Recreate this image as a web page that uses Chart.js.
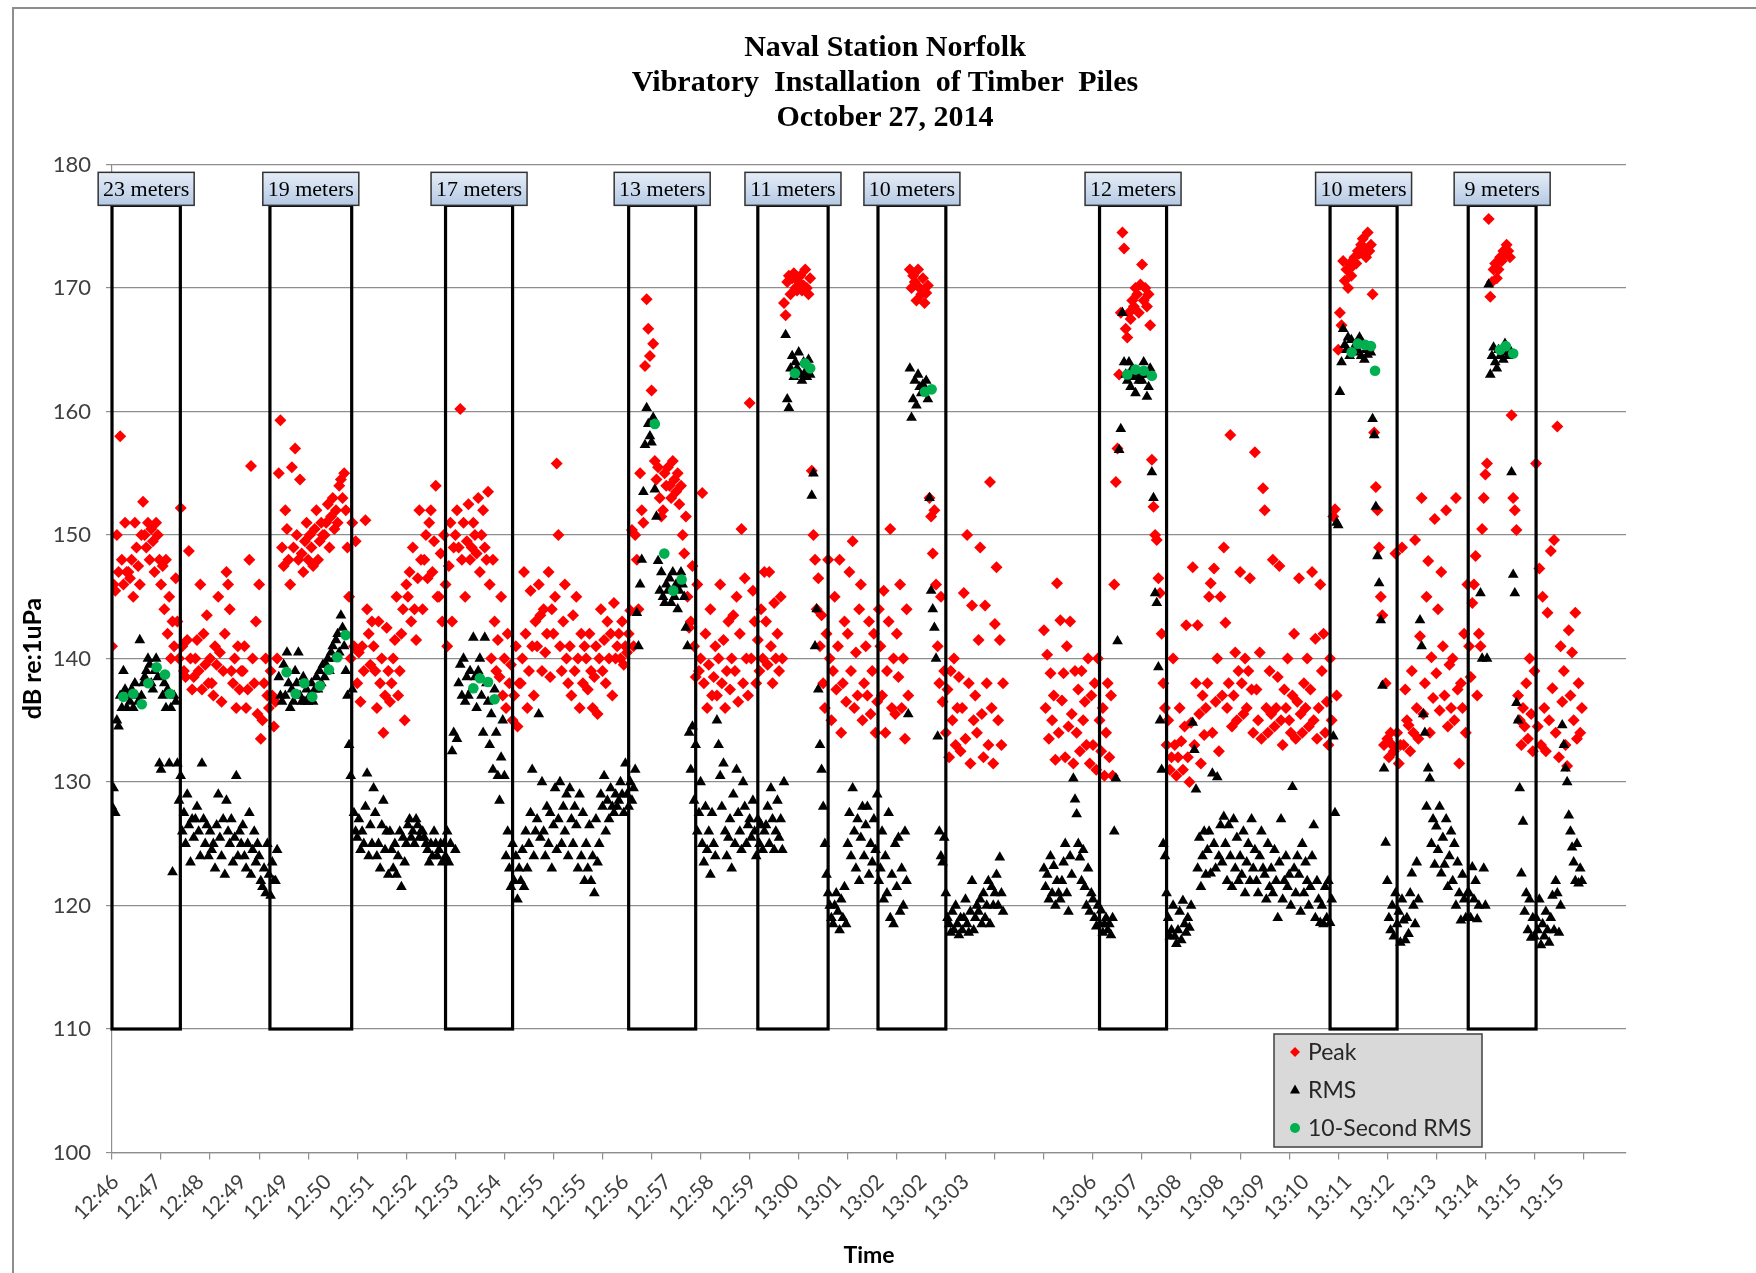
<!DOCTYPE html>
<html>
<head>
<meta charset="utf-8">
<title>Naval Station Norfolk - Vibratory Installation of Timber Piles</title>
<script src="https://cdn.jsdelivr.net/npm/chart.js@4.4.1/dist/chart.umd.min.js"></script>
<style>
  html, body { margin: 0; padding: 0; background: #fff; }
  #wrap { position: relative; width: 1756px; height: 1273px; overflow: hidden; background: #fff; }
  #frame { position: absolute; left: 12px; top: 7px; width: 1800px; height: 1300px;
           border-left: 2px solid #8e8e8e; border-top: 2px solid #8e8e8e; pointer-events: none; }
  #title { position: absolute; left: 0; top: 28px; width: 1770px; text-align: center;
           font: bold 30px "Liberation Serif", "Times New Roman", serif; line-height: 35px; color: #000;
           white-space: pre; }
  canvas { position: absolute; left: 0; top: 0; }
</style>
</head>
<body>
<div id="wrap">
  <canvas id="chart" width="1756" height="1273"></canvas>
  <div id="title">Naval Station Norfolk
Vibratory  Installation  of Timber  Piles
October 27, 2014</div>
  <div id="frame"></div>
</div>
<script>
// x axis: one category per sample, labelled every 26 samples, tick mark every 30
const N_SAMPLES = 926;
const LABEL_START = 2;
const LABEL_EVERY = 26;
const TICK_EVERY = 30;

const timeLabels = ["12:46", "12:47", "12:48", "12:49", "12:49", "12:50", "12:51", "12:52", "12:53",
    "12:54", "12:55", "12:55", "12:56", "12:57", "12:58", "12:59", "13:00", "13:01", "13:02", "13:02",
    "13:03", "", "", "13:06", "13:07", "13:08", "13:08", "13:09", "13:10", "13:11", "13:12", "13:13",
    "13:14", "13:15", "13:15"];

// Peak level per sample (dB re:1uPa)
const peak = [
    141,146,145.5,150,147,158,148,146,151,147,
    147,146.5,148,145,151,149,147.5,146,150,152.7,
    150,149,151,148,150.5,149.5,147,151,150,148,
    146,147.5,144,148,142,145,140,143,141,146.5,
    143,140,152.2,141,139,138.5,141.5,148.7,140,137.5,
    138.5,140,141.5,139,146,137.5,142,139.5,143.5,138,
    140,138,137,141,139.5,145,140.5,136.5,139,142,
    147,146,144,139,138,140,136,141,137.5,139,
    139,141,136,137.5,148,155.6,140,138,143,135.5,
    146,133.5,135,138,140,137,136,139,137,134.5,
    136.5,140,155,159.3,149,147.5,152,150.5,148,146,
    155.5,149,157,150,148,154.5,148.5,147,149.5,151,
    148,150,149,147.5,150.5,152,148,149.5,151,150,
    150,151,152.5,149,151.5,153,150.5,152,151,154,
    154.5,153,155,152,149,145,140,151,141,149.5,
    138,140.5,136.5,141,139,151.2,144,142,139.5,143,
    141,139,136,143,138,140,134,137,142.5,139,
    136.5,138,140,141.5,145,137,139,142,144,135,
    146,145,147,143,149,144,141.5,146.5,152,148,
    144,148,150,146.5,151,152,147,149.5,154,145,
    145,148.5,143,150,146,141,147.5,151,143,149,
    150,152,149,160.2,148,151,145,149.5,152.5,148,
    149,151,150,148.5,153,147,150,152,149,148,
    153.5,146,140,148,143,139,141.5,138.5,145,137,
    140,136,142,138,139.5,135,137,141,134.5,138,
    138,140,147,142,136,139,145.5,141,137,143,
    141,146,143.5,139,144,140.5,142,147,138.5,144,
    142,145,155.8,150,141,139,143,146,140,138,
    141,137,143.5,139,145,140,136,142,138,141,
    140,137.5,142,139,136,138.5,141,135.5,140,144,
    139,141.5,138,143,140,142,137,144.5,140,141,
    142,140,143,139.5,141,140.5,142,143.9,150.4,141,
    150,148,144,155,152,151,163.7,169.1,166.7,164.5,
    161.7,165.5,156,154.5,155.5,153,151.5,152,155,154,
    155.5,154,153,156,154.5,153.5,155,152.5,154,150,
    148.5,151.5,145,142.5,143,147.5,141,138.5,146,139,
    140,153.4,138,142,136,139.5,144,137,138.5,141,
    137,140,146,138,141.5,136,139,143,137.5,140,
    143.5,139,145,136.5,142,150.5,138,146.5,140,137,
    160.7,140,145.5,143,138,141.5,139,144,140,147,
    143,139.5,147,141,138,144.5,140,142,139,145,
    140,168.8,167.8,170.5,171,169.5,170.8,171.2,170,169.8,
    170.5,171,169.8,170.2,171.5,170,169.5,170.8,155.2,150,
    148,144,146.5,141,143.5,138,136,142,148,140,
    135,139,145,137.5,141,148,134,138,143,136.5,
    142,147,139,149.5,136,140.5,137,144,146,135,
    138,141,137,143,135.5,139,142,134,136.5,144,
    141,137,145.5,134,139,143,150.5,136,140,135.5,
    142,138.5,146,136,140,133.5,144,137,171.5,170,
    171,170.5,169,171.5,170,169.5,170.8,168.8,169.6,170.2,
    153,151.5,148.5,152,146,141,138,145,136.5,139,
    134,137.5,132,139,135,140,133,136,138.5,132.5,
    136,145.3,133.5,150,138,131.5,144.3,135,137,134,
    141.5,149,135.5,132,144.3,138,133,154.3,136,131.5,
    142.8,147.4,135,141.5,133,138,null,null,null,null,
    null,null,null,null,null,null,null,null,null,null,
    null,null,null,null,null,null,null,null,null,null,
    142.3,136,140.3,133.5,138.8,135,137,131.8,146.1,134,
    143.1,136.6,138.8,132,141,134.5,143,135.5,131.5,139,
    134,137.5,132.5,139,135,136.5,133,140,131.5,137,
    133,138,131,140,135,132.5,136,130.5,134,138,
    132,137,130.5,146,154.3,157,163,168,174.5,173.2,
    166.7,166,168,167.5,169,168.5,170,169.5,168,170.3,
    171.9,169,170,168.5,169.5,167,156.1,152.3,150,149.6,
    146.5,145.3,142,138,136,133,135,131,132,140,
    133,130.5,132,136,133.3,131,134.5,142.7,132,130,
    134.8,147.4,133,138,142.7,135.5,131.5,137,133.8,136,
    138,145,146.1,134,147.3,136.5,140,132.5,145,137,
    149,142.9,136,138,158.1,134.5,137,140.5,135,139,
    147,138,135.5,140,136,139,146.5,137.5,134,156.7,
    137.5,135,140.5,133.5,153.8,152,136,134,139,135.5,
    148,134.5,136,138.5,147.5,135,133,137.5,136,140,
    135,134,137,142,133.5,136.5,146.5,135.5,134,138,
    136,140,134.5,137.5,147,135,141.6,133.5,136,146,
    139,142,134,136.5,133,140,135,151.5,152.1,137,
    165,168,167,172.2,170.6,171.5,170,172,171,171.8,
    172.5,172,173,172.8,173.5,174,173.2,172.5,174.5,173,
    173.5,169.5,158.3,153.9,152,149,145,143.5,133,138,
    133.5,132,134,133,132.5,148.5,134,131.5,133,149,
    133,137.5,135,134.6,132.5,139,134,149.6,136,133.5,
    141.8,153,135.5,138,145,147.9,134,140.1,136.8,151.3,
    138.8,144,135.8,147,141,137,152,134.5,139.5,136,
    140,135,153,137.5,131.5,138,136,142,134,146,
    141,138.5,144.5,146,148.3,137,142,141,150.5,153,
    154.9,155.8,175.6,169.3,170.5,171.5,172,170.8,171.5,172.5,
    172.2,173,172.8,173.5,173,172.5,159.7,153,152,150.4,
    137,135,133,136,134.5,138,133.5,140,135.5,132.5,
    139,155.8,134.5,147.3,133,145,136,132.5,143.7,135,
    148.7,137.6,149.6,134,158.8,132,141,136.5,139,133,
    131.3,142.3,137,140.5,135,143.7,133.5,138,134,136
];

// RMS level per sample (dB re:1uPa)
const rms = [
    128,129.5,127.5,135,134.5,137,136,139,137.5,136,
    137,136.5,137.5,136,138,137,136.5,141.5,137,138,
    138.5,139,140,139.5,138,137.5,139,140,138.5,131.5,
    131,137,138,136,137.5,131.5,136,122.7,137,136.5,
    131.5,128.5,130.5,126,127.5,125,129,126.5,123.5,127,
    125.5,127,128,126,124,131.5,127,125,126.5,124,
    126,124.5,125,123,126.5,129,125.5,124,127,122.5,
    128.5,126,125,127,123.5,125.5,130.5,124,126,125,
    126.5,124,123,125,127.5,122.5,124.5,126,123.5,125,
    124,122,121.5,123,121,125,122.5,120.8,123.5,122,
    122,124.5,138.5,137,136.5,139.5,137,140.5,138,136,
    137.5,136.5,139,138,140.5,137,136.5,138.5,136.5,137.5,
    136.5,137,138,136.5,137.5,138.5,137.5,139,138,139.5,
    138.5,139.5,140,139,140.5,141,140,141.5,142,140.5,
    143.5,142.5,141,139,137,133,130.5,137.5,127.5,126,
    125.5,127,124.5,126,125,128,130.7,124,126.5,125,
    129.5,127.5,124,125,123,126.5,128.5,124.5,126,122.5,
    126,124.5,123,125,122.5,124,126,121.5,125.5,123.5,
    125,126.5,127,125.5,126,125,127,126.5,125.5,126,
    126,125.5,125,124.5,123.5,125,124,126,125,124,
    124.5,125,123.5,125,124,126,123.5,125,132.5,134,
    124.5,133.5,138,139.5,137,140,136.5,138.5,137,139,
    137.5,141.7,138.5,136,139,140,137,134,141.7,138,
    136.5,133,135.5,131,137.5,134,130.5,128.5,132,135,
    130.5,124,126,123,121.5,125,122,124,120.5,123,
    122,124.5,121.5,126,123,125,127.5,131,124,126,
    127,135.5,125.5,130,126,124,128,125,127.5,123,
    126.5,129.5,124.5,127,130,125,128,126,129,124,
    129.5,127,125,128,126.5,123,129,124,127.5,122,
    125,123,126.5,122,124,121,127,123.5,125,129,
    128,130.5,126,128.5,127,129.5,128,127.5,129,128,
    128.5,130,129,127.5,131.5,129,128,130,128.5,129.5,
    131,143.7,141,146,148,153.5,157.3,160.3,159,158,
    157.5,159.5,153.7,151.5,147.9,145.5,147,145,144.5,146,
    145.5,146.5,144.5,147,145,146,144,145.5,147,146,
    145,142.5,141,134,131,134.5,128.5,133,126,127.5,
    130,125,123.5,128,124.5,126,122.5,127.5,125,124,
    135,133,130.5,128,131.5,126,124,125.5,127,123,
    129,125,131,127.5,126,124.5,130,128,125,126.5,
    127,125.5,128.5,126,124,127,125,126.5,124.5,126,
    126.5,128,125,129.5,127,124.5,126,128.5,125.5,127,
    124.5,130,166.2,161,160.3,163.5,164.5,162.8,164,163.5,
    164.8,163,162.5,164,163.2,162.8,164.2,163,153.2,155,
    141,144,137.5,133,131,128,125,122.5,121,120,
    119,118.5,120,121,119.5,118,120.5,119,121.5,118.5,
    125,127.5,124,129.5,126,123,127,122,125.5,128,
    124,126.5,128,122.5,125,123.5,127,124.5,129,122,
    123,126,120.5,124,121,127.5,119,122.5,118.5,125,
    121.5,125.5,119.5,123,120,126,122,135.5,163.5,159.5,
    161,162.5,160.5,163,162,161.5,162.2,161.8,162.5,161,
    153,145.5,144,142.5,140,133.7,126,124,123.5,125.5,
    121,119,118.5,117.8,119.5,118,120,118.5,117.6,119,
    118,119,120.5,118.5,117.8,119.5,122,118,119,120,
    119.5,120.5,118.5,121,119,120,122,118.5,121.5,120,
    121,122.5,120,123.9,121,119.5,null,null,null,null,
    null,null,null,null,null,null,null,null,null,null,
    null,null,null,null,null,null,null,null,null,null,
    123,121.5,122.5,120.5,124,121,123.2,120,122,121,
    120.5,122,123.5,125,121,119.5,124,122.5,130.3,128.6,
    127.4,125,123.9,122,124.5,121.5,120,123,119.5,121,
    120.5,119,118.3,120,118.5,119.6,117.8,118.5,119,118,
    118.5,117.6,119,126,130.3,141.4,156.9,158.6,168,164,
    163,162.5,164,162,163.5,162.8,161.5,163.2,162.5,163,
    162.5,164,163,161.2,162,163.5,155.1,153,145.3,144.5,
    139.3,135,131,125,124,121,119,117.5,118,120,
    117.5,116.9,118,119.5,117.2,120.4,118.5,117.8,119,118.2,
    120,134.8,132.6,129.4,123,125.5,121.5,124,126,122.5,
    124.5,126,122.6,130.7,125,123,130.4,124,126.5,123.5,
    127.2,125,122,126.5,124,121.5,127,123,125.5,122,
    124,122.5,126,121,123.5,125,122,127,123,124.5,
    122,121,124,126,123,122.5,120.5,125,121.5,123,
    121,124.5,122,119,123.5,127,120.5,122,124,121.5,
    122.5,120,129.6,123,121,124,122.5,119.5,125,121,
    123.5,122,120,121.5,124,126.5,119,122,120.5,118.6,
    120,118.5,121.5,119,122,118.6,120.5,133.7,127.5,151,
    150.8,161.6,164,166.7,165.4,165,166,164.5,165.8,165,
    164.8,165.5,165,166,164.5,165.5,164.2,165,164.6,165.2,
    164.8,159.4,158.1,152.3,148.3,146.1,143.1,137.8,131.1,125.1,
    122,119,118,120,117.5,121,118.5,119.5,117,120.5,
    118.8,117.2,119,117.7,121,122.6,120,118.5,123.5,120.5,
    143.1,141,135.5,134,128,131.1,130.3,125,127,123.3,
    126.4,124.5,128,122.6,125.5,123.3,127,121.5,124,126,
    122,125,120,123.5,121,118.8,122.5,120.5,119,121,
    121,119,123.1,120.5,122,118.9,120,145.3,140,123,
    120,140,170.3,163,164.5,165.2,164,163.5,165,164.5,
    165,164.2,165.5,164.8,164.5,165,155.1,146.8,145.3,136.4,
    135,129.5,122.6,126.8,119.5,121,118,120.5,117.4,119,
    117.5,119,118,120.5,116.8,118.5,117.5,119.5,118,117,
    119,120.8,118,122,121,117.8,120,134.6,133,131.1,
    130,127.3,126,124.7,123.5,122,125,121.8,123,122
];

// 10-second RMS: sample position and level
const tenSecAt = [6.9, 13, 18.2, 22.2, 27.3, 32.4, 35.5,
    106.8, 112.3, 117.6, 122.5, 127.2, 132.7, 137.8, 142.9,
    221, 225, 230, 234,
    332, 337.8, 343.3, 348.4,
    417.7, 423.9, 427,
    497.2, 501.3,
    621, 626, 631, 636,
    758.2, 762, 766.5, 770, 772.5,
    849, 852.5, 857];
const tenSecRms = [136.9, 137.15, 136.3, 138.0, 139.3, 138.7, 137.15,
    138.9, 137.15, 138.0, 136.9, 137.8, 139.1, 140.1, 141.9,
    137.6, 138.4, 138.1, 136.7,
    159.0, 148.5, 145.5, 146.4,
    163.1, 163.9, 163.5,
    161.6, 161.8,
    163.0, 163.4, 163.3, 162.9,
    164.8, 165.5, 165.4, 165.3, 163.3,
    165.0, 165.3, 164.7];

// pile boxes (sample range) and distance labels
const boxStart = [0, 96.6, 204, 316, 395, 468.5, 604, 745, 829.5];
const boxEnd = [41.8, 146.6, 245, 357, 438, 510, 645, 786, 871];
const boxLabels = ["23 meters", "19 meters", "17 meters", "13 meters", "11 meters",
    "10 meters", "12 meters", "10 meters", "9 meters"];
const BOX_TOP = 176.7;
const BOX_BOTTOM = 110;

const toPoints = (arr) => arr.map((v, i) => (v == null ? null : { x: i, y: v })).filter(Boolean);

const AXIS_GREY = "#8e8e8e";
const TICK_COLOR = "#404040";

// pile boxes with their distance labels
const pileBoxes = {
    id: "pileBoxes",
    afterDatasetsDraw(chart) {
        const { ctx } = chart;
        const x = chart.scales.x;
        const y = chart.scales.y;
        const t = y.getPixelForValue(BOX_TOP);
        const b = y.getPixelForValue(BOX_BOTTOM);
        ctx.save();
        boxStart.forEach((s, i) => {
            const l = x.getPixelForValue(s);
            const r = x.getPixelForValue(boxEnd[i]);
            ctx.strokeStyle = "#000";
            ctx.lineWidth = 3.2;
            ctx.strokeRect(l, t, r - l, b - t);

            const cx = (l + r) / 2, w = 96, h = 33;
            const grad = ctx.createLinearGradient(0, t - h, 0, t);
            grad.addColorStop(0, "#e6edf7");
            grad.addColorStop(1, "#b4c9e4");
            ctx.fillStyle = grad;
            ctx.fillRect(cx - w / 2, t - h, w, h);
            ctx.strokeStyle = "#333";
            ctx.lineWidth = 1.5;
            ctx.strokeRect(cx - w / 2, t - h, w, h);
            ctx.fillStyle = "#000";
            ctx.font = '22px "Liberation Serif", "Times New Roman", serif';
            ctx.textAlign = "center";
            ctx.textBaseline = "middle";
            ctx.fillText(boxLabels[i], cx, t - h / 2 + 1);
        });
        ctx.restore();
    },
};

// legend box in the lower right of the plot
const legendBox = {
    id: "legendBox",
    afterDraw(chart) {
        const { ctx, chartArea } = chart;
        const w = 208, h = 113;
        const left = chartArea.right - 144 - w;
        const top = chartArea.bottom - 5.5 - h;
        ctx.save();
        ctx.fillStyle = "#d9d9d9";
        ctx.fillRect(left, top, w, h);
        ctx.strokeStyle = "#404040";
        ctx.lineWidth = 1.5;
        ctx.strokeRect(left, top, w, h);

        const mx = left + 21, tx = left + 34;
        const rows = [top + 18, top + 56, top + 94];
        // diamond
        ctx.fillStyle = "#ff0000";
        ctx.beginPath();
        ctx.moveTo(mx - 5, rows[0]); ctx.lineTo(mx, rows[0] - 5);
        ctx.lineTo(mx + 5, rows[0]); ctx.lineTo(mx, rows[0] + 5);
        ctx.closePath(); ctx.fill();
        // triangle
        ctx.fillStyle = "#000";
        ctx.beginPath();
        ctx.moveTo(mx, rows[1] - 5.5); ctx.lineTo(mx + 5, rows[1] + 3.5);
        ctx.lineTo(mx - 5, rows[1] + 3.5);
        ctx.closePath(); ctx.fill();
        // circle
        ctx.fillStyle = "#00b050";
        ctx.beginPath();
        ctx.arc(mx, rows[2], 5, 0, Math.PI * 2);
        ctx.fill();

        ctx.fillStyle = "#262626";
        ctx.font = '23px Lato, "Open Sans", sans-serif';
        ctx.textAlign = "left";
        ctx.textBaseline = "middle";
        ["Peak", "RMS", "10-Second RMS"].forEach((s, i) => ctx.fillText(s, tx, rows[i] + 1));
        ctx.restore();
    },
};

const chart = new Chart(document.getElementById("chart"), {
    type: "scatter",
    data: {
        datasets: [
            {
                label: "Peak",
                data: toPoints(peak),
                pointStyle: "rectRot",
                pointRadius: 6,
                backgroundColor: "#ff0000",
                borderColor: "#ff0000",
                borderWidth: 0,
                order: 3,
            },
            {
                label: "RMS",
                data: toPoints(rms),
                pointStyle: "triangle",
                pointRadius: 6.2,
                backgroundColor: "#000000",
                borderColor: "#000000",
                borderWidth: 0,
                order: 2,
            },
            {
                label: "10-Second RMS",
                data: tenSecAt.map((s, i) => ({ x: s, y: tenSecRms[i] })),
                pointStyle: "circle",
                pointRadius: 5.3,
                backgroundColor: "#00b050",
                borderColor: "#00b050",
                borderWidth: 0,
                order: 1,
            },
        ],
    },
    options: {
        responsive: false,
        animation: false,
        devicePixelRatio: 1,
        layout: { padding: { left: 14, right: 130, top: 164.6, bottom: 0 } },
        plugins: {
            legend: { display: false },
            tooltip: { enabled: false },
            title: { display: false },
        },
        scales: {
            xt: {
                type: "linear",
                position: "bottom",
                weight: 0,
                min: 0,
                max: N_SAMPLES,
                afterBuildTicks: (scale) => {
                    const t = [];
                    for (let v = 0; v <= N_SAMPLES; v += TICK_EVERY) t.push({ value: v });
                    scale.ticks = t;
                },
                ticks: { display: false },
                grid: { drawOnChartArea: false, tickLength: 7, color: AXIS_GREY, lineWidth: 1.2 },
                border: { display: true, color: AXIS_GREY, width: 1.2 },
                afterFit: (scale) => { scale.height = 7; },
            },
            x: {
                type: "linear",
                position: "bottom",
                weight: 1,
                min: 0,
                max: N_SAMPLES,
                afterBuildTicks: (scale) => {
                    scale.ticks = timeLabels.map((_, k) => ({ value: LABEL_START + k * LABEL_EVERY }));
                },
                ticks: {
                    autoSkip: false,
                    minRotation: 45,
                    maxRotation: 45,
                    padding: 10,
                    color: TICK_COLOR,
                    font: { family: "Lato", size: 21 },
                    callback: (value, index) => timeLabels[index],
                },
                grid: { display: false, drawTicks: false },
                border: { display: false },
                title: {
                    display: true,
                    text: "Time",
                    color: "#000",
                    font: { family: "Lato", size: 23, weight: "bold" },
                    padding: { top: 4, bottom: 4 },
                },
                afterFit: (scale) => { scale.height = 113.5; },
            },
            y: {
                min: 100,
                max: 180,
                ticks: {
                    stepSize: 10,
                    padding: 15,
                    color: TICK_COLOR,
                    font: { family: "Lato", size: 22 },
                },
                grid: { color: AXIS_GREY, lineWidth: 1.2, tickLength: 6 },
                border: { color: AXIS_GREY, width: 1.2 },
                title: {
                    display: true,
                    text: "dB re:1uPa",
                    color: "#000",
                    font: { family: "Lato", size: 25, weight: "bold" },
                    padding: { top: 4, bottom: 0 },
                },
                afterFit: (scale) => { scale.width = 98; },
            },
        },
    },
    plugins: [pileBoxes, legendBox],
});
</script>
</body>
</html>
